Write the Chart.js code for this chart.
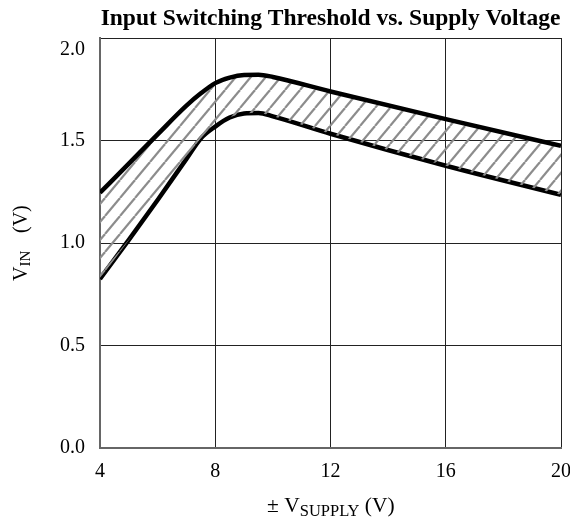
<!DOCTYPE html>
<html>
<head>
<meta charset="utf-8">
<script src="https://cdn.jsdelivr.net/npm/chart.js@4"></script>
<style>
  body { margin: 0; background: #fff; }
  #wrap { width: 570px; height: 522px; }
</style>
</head>
<body>
<div id="wrap"><canvas id="chart" width="570" height="522"></canvas></div>
<script>
// supply voltage (V) where the curves were read
const supplyV = [4, 5, 6, 7, 7.5, 8, 8.5, 9, 9.5, 10, 12, 16, 20];
// upper and lower threshold curves (V)
const upperVin = [1.245, 1.387, 1.53, 1.67, 1.73, 1.78, 1.807, 1.82, 1.821, 1.81, 1.739, 1.604, 1.474];
const lowerVin = [0.825, 1.015, 1.21, 1.41, 1.51, 1.568, 1.612, 1.632, 1.634, 1.618, 1.533, 1.377, 1.235];
const xTicks = [4, 8, 12, 16, 20];
const yTicks = [0, 0.5, 1.0, 1.5, 2.0];

const serif = "'Liberation Serif', 'Times New Roman', serif";

/* hatch pattern for the band between the curves */
function makeHatch() {
  const w = 15, h = 18;
  const c = document.createElement('canvas');
  c.width = w; c.height = h;
  const g = c.getContext('2d');
  g.strokeStyle = '#8c8c8c';
  g.lineWidth = 2.2;
  for (let k = -1; k <= 1; k++) {
    g.beginPath();
    g.moveTo(k * w, h);
    g.lineTo(k * w + w, 0);
    g.stroke();
  }
  return g.createPattern(c, 'repeat');
}

/* title + axis titles with subscripts */
const labels = {
  id: 'labels',
  afterDraw(chart) {
    const ctx = chart.ctx;
    const area = chart.chartArea;
    ctx.save();
    ctx.fillStyle = '#000';
    ctx.textBaseline = 'alphabetic';

    ctx.font = 'bold 23.5px ' + serif;
    ctx.textAlign = 'center';
    ctx.fillText('Input Switching Threshold vs. Supply Voltage', (area.left + area.right) / 2, 25);

    // x title: ± V_SUPPLY (V)
    ctx.textAlign = 'left';
    let x = 267;
    ctx.font = '21.5px ' + serif;
    ctx.fillText('\u00b1 V', x, 512);
    x += ctx.measureText('\u00b1 V').width;
    ctx.font = '16.5px ' + serif;
    ctx.fillText('SUPPLY', x, 516);
    x += ctx.measureText('SUPPLY').width;
    ctx.font = '21.5px ' + serif;
    ctx.fillText(' (V)', x, 512);

    // y title: V_IN  (V)
    ctx.translate(27, 281);
    ctx.rotate(-Math.PI / 2);
    ctx.font = '20px ' + serif;
    ctx.fillText('V', 0, 0);
    const vw = ctx.measureText('V').width;
    ctx.font = '15px ' + serif;
    ctx.fillText('IN', vw, 3);
    ctx.font = '20px ' + serif;
    ctx.fillText('(V)', 48, 0);
    ctx.restore();
  }
};

const ctx = document.getElementById('chart').getContext('2d');
const chart = new Chart(ctx, {
  type: 'line',
  data: {
    datasets: [
      {
        label: 'upper',
        data: supplyV.map((v, i) => ({ x: v, y: upperVin[i] })),
        borderColor: '#000',
        borderWidth: 4.5,
        pointRadius: 0,
        cubicInterpolationMode: 'monotone',
        fill: '+1',
        backgroundColor: makeHatch()
      },
      {
        label: 'lower',
        data: supplyV.map((v, i) => ({ x: v, y: lowerVin[i] })),
        borderColor: '#000',
        borderWidth: 4.5,
        pointRadius: 0,
        cubicInterpolationMode: 'monotone',
        fill: false
      }
    ]
  },
  options: {
    responsive: false,
    animation: false,
    events: [],
    layout: { padding: { top: 38, right: 9, left: 0, bottom: 0 } },
    plugins: {
      legend: { display: false },
      title: { display: false },
      tooltip: { enabled: false }
    },
    scales: {
      x: {
        type: 'linear',
        min: 4,
        max: 20,
        afterFit: s => { s.height = 74; s.paddingLeft = 0; s.paddingRight = 0; },
        afterBuildTicks: s => { s.ticks = xTicks.map(v => ({ value: v })); },
        grid: { color: '#222', lineWidth: 1, drawTicks: false },
        border: { color: '#666', width: 2 },
        ticks: {
          padding: 12,
          color: '#000',
          maxRotation: 0,
          font: { family: serif, size: 20 }
        }
      },
      y: {
        min: 0,
        max: 2,
        afterFit: s => { s.width = 100; s.paddingTop = 0; s.paddingBottom = 0; },
        afterBuildTicks: s => { s.ticks = yTicks.map(v => ({ value: v })); },
        grid: { color: '#222', lineWidth: 1, drawTicks: false },
        border: { color: '#666', width: 2 },
        ticks: {
          padding: 15,
          color: '#000',
          font: { family: serif, size: 20 },
          // top label sits a little below its gridline
          callback: v => v === 2 ? ['', v.toFixed(1)] : v.toFixed(1)
        }
      }
    }
  },
  plugins: [labels]
});
</script>
</body>
</html>
